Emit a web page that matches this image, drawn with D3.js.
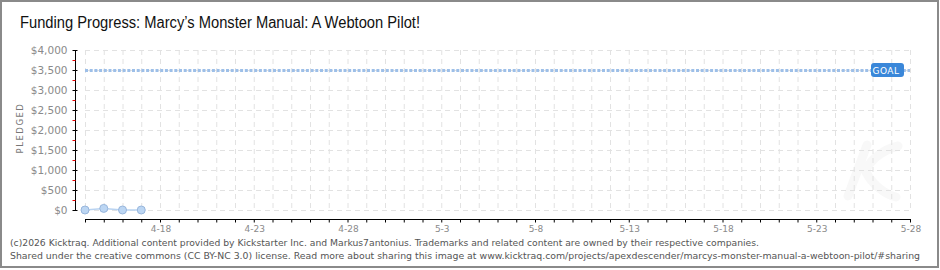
<!DOCTYPE html>
<html>
<head>
<meta charset="utf-8">
<script src="https://cdnjs.cloudflare.com/ajax/libs/d3/7.8.5/d3.min.js"></script>
<style>
  body { margin: 0; background: #fff; }
  svg text { font-family: "DejaVu Sans", sans-serif; }
</style>
</head>
<body>
<div id="chart"></div>
<script>
// data
var dates = ["2026-04-14", "2026-04-15", "2026-04-16", "2026-04-17"];
var pledged = [0, 40, 0, 0];
var goal = 3500;
var yTickValues = [0, 500, 1000, 1500, 2000, 2500, 3000, 3500, 4000];
var xTickDates = ["2026-04-18", "2026-04-23", "2026-04-28", "2026-05-03", "2026-05-08", "2026-05-13", "2026-05-18", "2026-05-23", "2026-05-28"];
var xTickLabels = ["4-18", "4-23", "4-28", "5-3", "5-8", "5-13", "5-18", "5-23", "5-28"];
var domainStart = "2026-04-14", domainEnd = "2026-05-28";
var title = "Funding Progress: Marcy\u2019s Monster Manual: A Webtoon Pilot!";
var footer1 = "(c)2026 Kicktraq. Additional content provided by Kickstarter Inc. and Markus7antonius. Trademarks and related content are owned by their respective companies.";
var footer2 = "Shared under the creative commons (CC BY-NC 3.0) license. Read more about sharing this image at www.kicktraq.com/projects/apexdescender/marcys-monster-manual-a-webtoon-pilot/#sharing";

var parse = d3.utcParse("%Y-%m-%d");
var W = 940, H = 270;

var svg = d3.select("#chart").append("svg")
    .attr("width", W)
    .attr("height", H);

// frame
svg.append("rect")
    .attr("x", 1).attr("y", 1)
    .attr("width", 937).attr("height", 266)
    .attr("fill", "#fff")
    .attr("stroke", "#8a8a8a")
    .attr("stroke-width", 2);

var x = d3.scaleUtc()
    .domain([parse(domainStart), parse(domainEnd)])
    .range([85, 910]);
var y = d3.scaleLinear()
    .domain([0, 4000])
    .range([210, 50]);

// faint watermark
svg.append("path")
    .attr("d", "M867,145 L848,196 M898,146 C880,150 866,165 866,172 C872,184 884,194 896,197")
    .attr("fill", "none")
    .attr("stroke", "#f8f8f8")
    .attr("stroke-width", 9)
    .attr("stroke-linecap", "round");

// grid
var days = d3.utcDay.range(parse(domainStart), d3.utcDay.offset(parse(domainEnd), 1));
svg.append("g").selectAll("line")
    .data(days)
  .enter().append("line")
    .attr("x1", function(d) { return x(d) + 0.5; })
    .attr("x2", function(d) { return x(d) + 0.5; })
    .attr("y1", y(4000)).attr("y2", y(0))
    .attr("stroke", "#e2e2e2")
    .attr("stroke-dasharray", "5,4");
svg.append("g").selectAll("line")
    .data(yTickValues)
  .enter().append("line")
    .attr("x1", x.range()[0]).attr("x2", x.range()[1])
    .attr("y1", function(d) { return y(d) + 0.5; })
    .attr("y2", function(d) { return y(d) + 0.5; })
    .attr("stroke", "#e2e2e2")
    .attr("stroke-dasharray", "5,4");

// goal line
svg.append("line")
    .attr("x1", x.range()[0]).attr("x2", x.range()[1])
    .attr("y1", y(goal) + 0.5).attr("y2", y(goal) + 0.5)
    .attr("stroke", "#9dbfe8")
    .attr("stroke-width", 3)
    .attr("stroke-dasharray", "3,1.7");
svg.append("rect")
    .attr("x", 871).attr("y", y(goal) - 7)
    .attr("width", 33).attr("height", 14)
    .attr("rx", 3)
    .attr("fill", "#3a87d9");
svg.append("text")
    .attr("x", 886).attr("y", y(goal) + 3.5)
    .attr("text-anchor", "middle")
    .attr("fill", "#fff")
    .style("font-size", "9px")
    .style("letter-spacing", "0.5px")
    .text("GOAL");

// y axis
var yAxis = d3.axisLeft(y)
    .tickValues(yTickValues)
    .tickSize(4)
    .tickPadding(7)
    .tickFormat(function(d) { return "$" + d3.format(",")(d); });
var gy = svg.append("g")
    .attr("transform", "translate(75.5,0)")
    .call(yAxis);
gy.select(".domain").attr("stroke", "#000").attr("d", "M0," + y(4000) + "V" + (y(0) + 1));
gy.selectAll(".tick line").attr("x2", -3).attr("x1", 2).attr("stroke", "#000");
gy.selectAll(".tick text")
    .attr("fill", "#8a8a8a")
    .style("font-size", "10.5px")
    .attr("x", -8);
// red minor ticks
gy.append("g").selectAll("line")
    .data(yTickValues.slice(1))
  .enter().append("line")
    .attr("x1", -3).attr("x2", 0)
    .attr("y1", function(d) { return y(d - 250) + 0.5; })
    .attr("y2", function(d) { return y(d - 250) + 0.5; })
    .attr("stroke", "#e00");

svg.append("text")
    .attr("transform", "translate(23,128) rotate(-90)")
    .attr("text-anchor", "middle")
    .attr("fill", "#777")
    .style("font-size", "8.5px")
    .style("letter-spacing", "1.5px")
    .text("PLEDGED");

// x axis
var gx = svg.append("g")
    .attr("transform", "translate(0,219.5)")
    .call(d3.axisBottom(x).ticks(d3.utcDay.every(1)).tickSize(3).tickFormat(""));
gx.select(".domain").attr("d", "M" + x.range()[0] + ",0H" + (x.range()[1] + 1));
gx.selectAll("line").attr("stroke", "#000");
svg.append("g").selectAll("text")
    .data(xTickDates)
  .enter().append("text")
    .attr("x", function(d) { return x(parse(d)) + 1; })
    .attr("y", 232)
    .attr("text-anchor", "middle")
    .attr("fill", "#8a8a8a")
    .style("font-size", "9px")
    .text(function(d, i) { return xTickLabels[i]; });

// pledged series
var series = dates.map(function(d, i) { return {date: parse(d), value: pledged[i]}; });
svg.append("path")
    .datum(series)
    .attr("fill", "none")
    .attr("stroke", "#b9d3f1")
    .attr("stroke-width", 1.5)
    .attr("d", d3.line()
        .x(function(d) { return x(d.date); })
        .y(function(d) { return y(d.value); }));
svg.append("g").selectAll("circle")
    .data(series)
  .enter().append("circle")
    .attr("cx", function(d) { return x(d.date); })
    .attr("cy", function(d) { return y(d.value); })
    .attr("r", 4)
    .attr("fill", "#bcd6f3")
    .attr("stroke", "#98b6dc")
    .attr("stroke-width", 1);

// title
svg.append("text")
    .attr("x", 20).attr("y", 28)
    .attr("fill", "#111")
    .attr("textLength", 400)
    .attr("lengthAdjust", "spacingAndGlyphs")
    .style("font-family", "'Liberation Sans Narrow', sans-serif")
    .style("font-size", "16px")
    .text(title);

// footer
svg.append("text")
    .attr("x", 10).attr("y", 246)
    .attr("fill", "#555")
    .attr("textLength", 749)
    .attr("lengthAdjust", "spacingAndGlyphs")
    .style("font-family", "'DejaVu Sans Condensed', sans-serif")
    .style("font-size", "9px")
    .text(footer1);
svg.append("text")
    .attr("x", 10).attr("y", 259)
    .attr("fill", "#555")
    .attr("textLength", 910)
    .attr("lengthAdjust", "spacingAndGlyphs")
    .style("font-family", "'DejaVu Sans Condensed', sans-serif")
    .style("font-size", "9px")
    .text(footer2);
</script>
</body>
</html>
